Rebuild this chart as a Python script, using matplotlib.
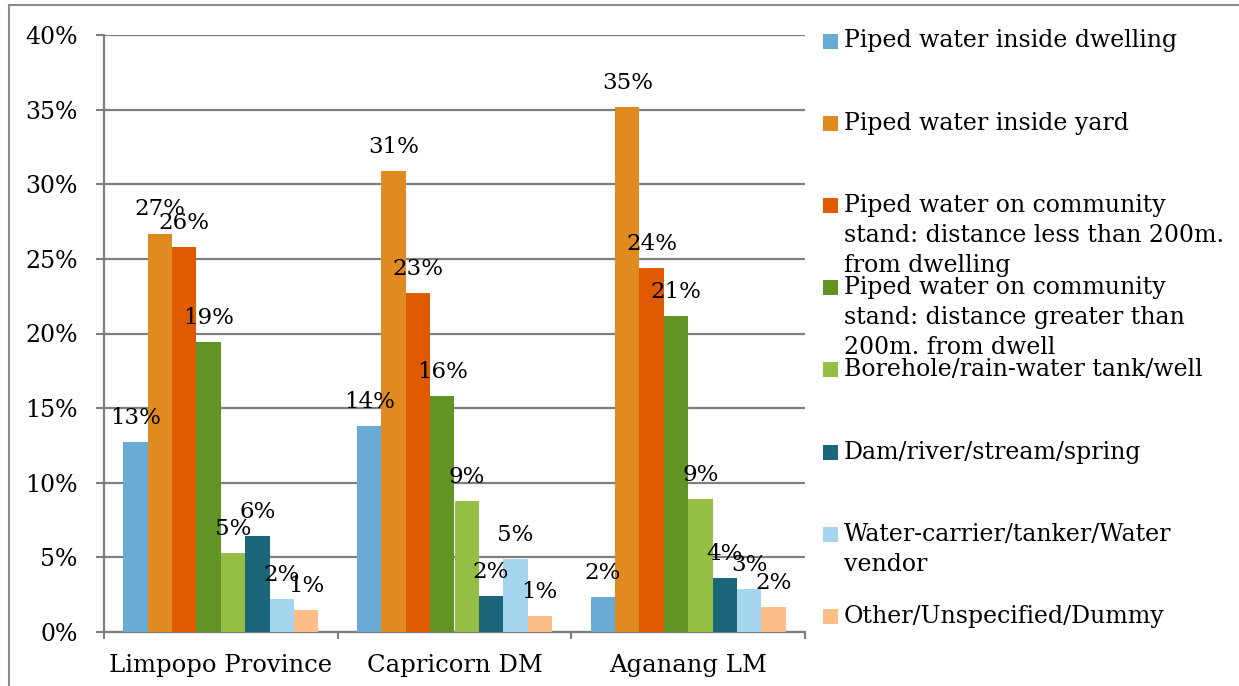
import matplotlib
matplotlib.use("Agg")
import matplotlib.pyplot as plt
import numpy as np
from matplotlib.lines import Line2D
from matplotlib.patches import Rectangle

categories = ["Limpopo Province", "Capricorn DM", "Aganang LM"]
series_names = [
    "Piped water inside dwelling",
    "Piped water inside yard",
    "Piped water on community\nstand: distance less than 200m.\nfrom dwelling",
    "Piped water on community\nstand: distance greater than\n200m. from dwell",
    "Borehole/rain-water tank/well",
    "Dam/river/stream/spring",
    "Water-carrier/tanker/Water\nvendor",
    "Other/Unspecified/Dummy",
]
# values in percent, one list per series (Limpopo, Capricorn, Aganang)
s_dwelling = [12.7, 13.8, 2.35]
s_yard = [26.7, 30.9, 35.2]
s_stand_lt200 = [25.8, 22.7, 24.4]
s_stand_gt200 = [19.4, 15.8, 21.2]
s_borehole = [5.3, 8.8, 8.9]
s_dam = [6.4, 2.4, 3.6]
s_carrier = [2.2, 4.9, 2.9]
s_other = [1.45, 1.1, 1.7]
series_values = [s_dwelling, s_yard, s_stand_lt200, s_stand_gt200,
                 s_borehole, s_dam, s_carrier, s_other]
colors = ["#68ACD6", "#E08A20", "#E05A00", "#629425",
          "#94BF44", "#1C6679", "#A6D5F0", "#FDBE8A"]
yticks = [0, 5, 10, 15, 20, 25, 30, 35, 40]

W, H = 1239, 686
fig = plt.figure(figsize=(W / 100, H / 100), dpi=100)
ax = fig.add_axes([104 / W, 1 - 632 / H, (805 - 104) / W, (632 - 35) / H])

font = "DejaVu Serif"
grey = "#7F7F7F"

n = len(series_values)
bw = 1 / 9.6
x = np.arange(len(categories))
for i, (vals, c) in enumerate(zip(series_values, colors)):
    pos = x - 0.5 + 0.8 * bw + (i + 0.5) * bw
    bars = ax.bar(pos, vals, width=bw, color=c, edgecolor="none", zorder=3)
    for b, v in zip(bars, vals):
        ax.annotate(f"{round(v):d}%", (b.get_x() + b.get_width() / 2, v),
                    xytext=(0, 13), textcoords="offset points",
                    ha="center", va="baseline", fontsize=16.5,
                    family=font, color="black", zorder=5)

ax.set_xlim(-0.5, 2.5)
ax.set_ylim(0, 40)
ax.set_yticks(yticks)
ax.set_yticklabels([f"{t}%" for t in yticks], family=font, fontsize=17)
ax.yaxis.grid(True, color=grey, linewidth=1.6, zorder=0)
ax.set_axisbelow(True)
ax.tick_params(axis="y", direction="out", length=6, width=1.5, color=grey, pad=13)

ax.set_xticks(x)
ax.set_xticklabels(categories, family=font, fontsize=17.5)
ax.tick_params(axis="x", which="major", length=0, pad=16)
ax.set_xticks([-0.5, 0.5, 1.5, 2.5], minor=True)
ax.tick_params(axis="x", which="minor", direction="out", length=5, width=1.5, color=grey)

for s in ["top", "right"]:
    ax.spines[s].set_visible(False)
for s in ["left", "bottom"]:
    ax.spines[s].set_color(grey)
    ax.spines[s].set_linewidth(1.6)

# legend drawn manually
y0 = 41
dy = 82.2
line_h = 30
for i, (name, c) in enumerate(zip(series_names, colors)):
    yc = y0 + i * dy
    fig.patches.append(Rectangle((823 / W, 1 - (yc + 7.5) / H), 15 / W, 15 / H,
                                 transform=fig.transFigure, facecolor=c,
                                 edgecolor="none"))
    for k, line in enumerate(name.split("\n")):
        fig.text(844 / W, 1 - (yc + k * line_h) / H, line, family=font,
                 fontsize=17, va="center", ha="left", color="black")

# outer frame
fig.lines.append(Line2D([9 / W, 1.0], [1 - 5 / H, 1 - 5 / H],
                        transform=fig.transFigure, color="#8C8C8C", linewidth=1.5))
fig.lines.append(Line2D([9 / W, 9 / W], [0, 1 - 5 / H],
                        transform=fig.transFigure, color="#8C8C8C", linewidth=1.5))

fig.savefig("out.png", dpi=100)
